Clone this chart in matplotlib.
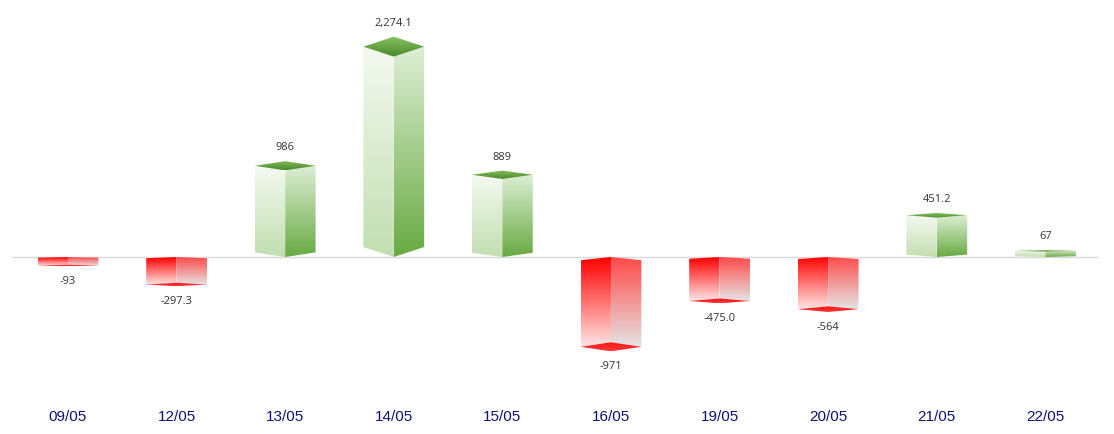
import matplotlib.pyplot as plt
import numpy as np
from matplotlib.patches import Polygon
from matplotlib.colors import to_rgba

dates = ['09/05', '12/05', '13/05', '14/05', '15/05', '16/05', '19/05', '20/05', '21/05', '22/05']
values = [-93, -297.3, 986, 2274.1, 889, -971, -475.0, -564, 451.2, 67]
value_labels = ['-93', '-297.3', '986', '2,274.1', '889', '-971', '-475.0', '-564', '451.2', '67']


def gradient_face(ax, xy, c_top, c_bot):
    # fill a polygon with a vertical gradient (clipped image)
    xy = np.asarray(xy)
    x0, x1 = xy[:, 0].min(), xy[:, 0].max()
    y0, y1 = xy[:, 1].min(), xy[:, 1].max()
    t = np.linspace(0, 1, 128)[:, None]
    a = np.array(to_rgba(c_bot))
    b = np.array(to_rgba(c_top))
    img = (a + (b - a) * t)[:, None, :]
    im = ax.imshow(img, extent=(x0, x1, y0, y1), origin='lower', aspect='auto',
                   interpolation='bilinear', zorder=2)
    patch = Polygon(xy, closed=True, fc='none', ec='none', transform=ax.transData)
    ax.add_patch(patch)
    im.set_clip_path(patch)


fig = plt.figure(figsize=(11.14, 4.35), dpi=100)
ax = fig.add_axes([0, 35 / 435, 1, 400 / 435])

ax.plot([-0.516, 9.48], [0, 0], color='#d9d9d9', lw=1, zorder=1)

hw = 0.28
for i, (v, lbl) in enumerate(zip(values, value_labels)):
    x = i
    dt = 0.045 * abs(v) + 5.4
    if v >= 0:
        db = dt
        left = [(x - hw, db), (x, 0), (x, v - dt), (x - hw, v)]
        right = [(x, 0), (x + hw, db), (x + hw, v), (x, v - dt)]
        cap = [(x - hw, v), (x, v + dt), (x + hw, v), (x, v - dt)]
        gradient_face(ax, left, '#f4f9f1', '#c2deb1')
        gradient_face(ax, right, '#ddeed5', '#69aa43')
        gradient_face(ax, cap, '#86c160', '#4a882a')
        ax.annotate(lbl, (x, v + dt), xytext=(0, 9), textcoords='offset pixels',
                    ha='center', va='bottom', fontsize=8, color='#333333',
                    family='Open Sans')
    else:
        db = dt * 0.7
        left = [(x - hw, -db), (x, 0), (x, v + dt), (x - hw, v)]
        right = [(x, 0), (x + hw, -db), (x + hw, v), (x, v + dt)]
        cap = [(x - hw, v), (x, v + dt), (x + hw, v), (x, v - dt)]
        gradient_face(ax, left, '#ff0000', '#ffe6e6')
        gradient_face(ax, right, '#ff4a4a', '#e4e4e4')
        gradient_face(ax, cap, '#ff1010', '#ff3a3a')
        ax.annotate(lbl, (x, v - dt), xytext=(0, -9), textcoords='offset pixels',
                    ha='center', va='top', fontsize=8, color='#333333',
                    family='Open Sans')

ax.set_xlim(-0.626, 9.632)
ax.set_ylim(-1535, 2789)
ax.set_xticks(range(len(dates)), dates)
ax.set_yticks([])
ax.tick_params(axis='x', length=0, pad=7, labelsize=11, labelcolor='#10107a')
for lab in ax.get_xticklabels():
    lab.set_family('Liberation Sans')
for s in ax.spines.values():
    s.set_visible(False)

fig.savefig('out.png', dpi=100)
